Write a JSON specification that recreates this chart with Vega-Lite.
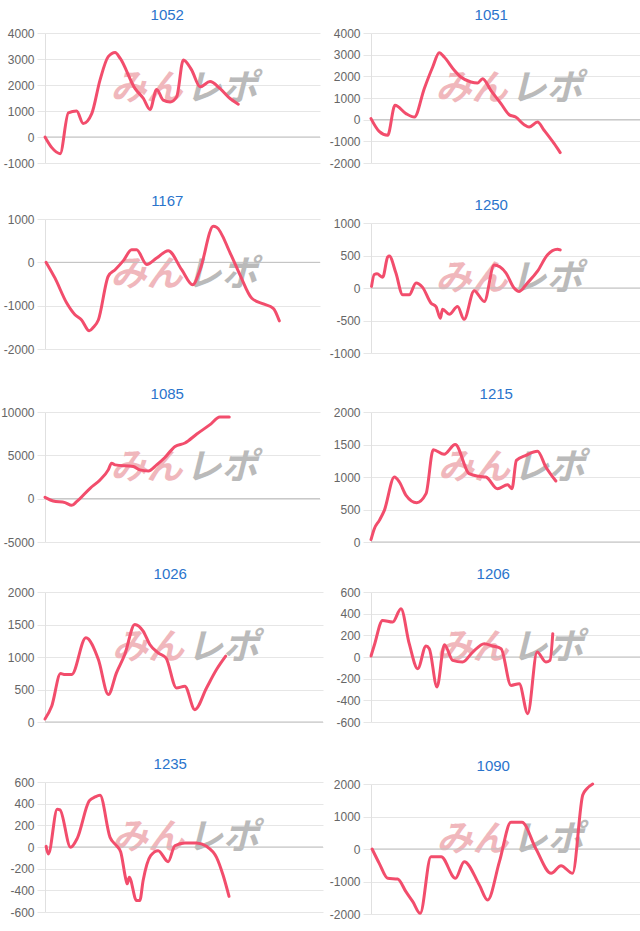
{
  "$schema": "https://vega.github.io/schema/vega-lite/v6.json",
  "padding": {"top": 8, "left": 0, "right": 0, "bottom": 0},
  "background": "white",
  "spacing": 0,
  "datasets": {
    "d1052": [{"x":0,"y":0},{"x":2.4,"y":-400},{"x":5.5,"y":-640},{"x":8.5,"y":930},{"x":11.5,"y":1000},{"x":13.9,"y":520},{"x":17.0,"y":900},{"x":20.0,"y":2190},{"x":23.0,"y":3090},{"x":25.5,"y":3250},{"x":27.3,"y":3030},{"x":32.7,"y":1870},{"x":35.8,"y":1480},{"x":38.2,"y":1060},{"x":40.6,"y":1830},{"x":43.0,"y":1420},{"x":45.5,"y":1350},{"x":47.9,"y":1550},{"x":50.3,"y":2960},{"x":53.3,"y":2580},{"x":56.4,"y":1930},{"x":60.0,"y":2130},{"x":63.6,"y":1870},{"x":67.3,"y":1480},{"x":70.3,"y":1260}],
    "d1051": [{"x":0,"y":50},{"x":3.0,"y":-540},{"x":6.1,"y":-720},{"x":8.8,"y":660},{"x":12.8,"y":280},{"x":15.9,"y":120},{"x":19.5,"y":1430},{"x":22.6,"y":2430},{"x":25.0,"y":3090},{"x":26.8,"y":2890},{"x":30.5,"y":2280},{"x":32.9,"y":1970},{"x":36.6,"y":1740},{"x":39.0,"y":1690},{"x":40.9,"y":1890},{"x":43.9,"y":1350},{"x":47.6,"y":740},{"x":50.6,"y":230},{"x":53.0,"y":120},{"x":56.1,"y":-230},{"x":57.9,"y":-340},{"x":61.0,"y":-110},{"x":63.4,"y":-490},{"x":67.1,"y":-1110},{"x":69.3,"y":-1520}],
    "d1167": [{"x":0.4,"y":0},{"x":3.6,"y":-360},{"x":7.9,"y":-940},{"x":10.9,"y":-1210},{"x":13.3,"y":-1330},{"x":16.1,"y":-1580},{"x":17.6,"y":-1500},{"x":19.4,"y":-1330},{"x":23.0,"y":-320},{"x":25.5,"y":-170},{"x":28.5,"y":40},{"x":31.5,"y":290},{"x":33.3,"y":290},{"x":37.0,"y":-50},{"x":40.6,"y":100},{"x":44.8,"y":270},{"x":49.7,"y":-170},{"x":53.7,"y":-520},{"x":56.4,"y":-170},{"x":61.2,"y":830},{"x":62.4,"y":810},{"x":67.3,"y":220},{"x":70.9,"y":-290},{"x":75.2,"y":-830},{"x":79.4,"y":-960},{"x":83.0,"y":-1060},{"x":85.2,"y":-1350}],
    "d1250": [{"x":0.2,"y":25},{"x":1.2,"y":207},{"x":2.2,"y":218},{"x":4.3,"y":166},{"x":6.1,"y":477},{"x":6.7,"y":492},{"x":9.1,"y":233},{"x":11.6,"y":-104},{"x":14.0,"y":-104},{"x":16.5,"y":78},{"x":18.9,"y":10},{"x":22.0,"y":-233},{"x":23.8,"y":-285},{"x":25.4,"y":-466},{"x":26.2,"y":-326},{"x":28.7,"y":-404},{"x":31.7,"y":-285},{"x":34.1,"y":-482},{"x":37.8,"y":-41},{"x":41.5,"y":-207},{"x":45.1,"y":352},{"x":49.4,"y":233},{"x":52.4,"y":0},{"x":54.3,"y":-52},{"x":57.3,"y":78},{"x":61.0,"y":259},{"x":64.6,"y":508},{"x":68.3,"y":596},{"x":69.3,"y":585}],
    "d1085": [{"x":0,"y":155},{"x":3.0,"y":-270},{"x":7.3,"y":-460},{"x":9.7,"y":-770},{"x":11.5,"y":-350},{"x":16.4,"y":1200},{"x":20.0,"y":2160},{"x":23.0,"y":3320},{"x":24.2,"y":4100},{"x":25.5,"y":3900},{"x":32.1,"y":3710},{"x":34.5,"y":3320},{"x":37.6,"y":3200},{"x":40.6,"y":3900},{"x":43.6,"y":4750},{"x":47.3,"y":6030},{"x":50.9,"y":6420},{"x":55.2,"y":7460},{"x":60.0,"y":8540},{"x":63.6,"y":9430},{"x":67.0,"y":9430}],
    "d1215": [{"x":0,"y":36},{"x":1.2,"y":205},{"x":3.0,"y":333},{"x":4.8,"y":487},{"x":8.4,"y":1000},{"x":10.2,"y":923},{"x":12.6,"y":718},{"x":16.4,"y":605},{"x":19.8,"y":744},{"x":22.4,"y":1420},{"x":26.3,"y":1350},{"x":30.3,"y":1500},{"x":35.3,"y":1051},{"x":38.9,"y":1010},{"x":41.3,"y":1000},{"x":45.5,"y":820},{"x":49.1,"y":882},{"x":50.7,"y":820},{"x":52.3,"y":1256},{"x":55.7,"y":1333},{"x":59.9,"y":1395},{"x":62.9,"y":1154},{"x":66.5,"y":938}],
    "d1026": [{"x":0,"y":46},{"x":2.4,"y":242},{"x":5.6,"y":745},{"x":7.2,"y":730},{"x":9.6,"y":730},{"x":14.7,"y":1296},{"x":19.2,"y":961},{"x":22.8,"y":422},{"x":25.7,"y":756},{"x":28.7,"y":1039},{"x":32.3,"y":1501},{"x":35.3,"y":1398},{"x":37.7,"y":1193},{"x":40.7,"y":1064},{"x":43.5,"y":987},{"x":47.3,"y":524},{"x":50.3,"y":550},{"x":53.9,"y":190},{"x":58.1,"y":524},{"x":61.7,"y":807},{"x":65.0,"y":1013}],
    "d1206": [{"x":0,"y":9},{"x":1.2,"y":108},{"x":4.2,"y":338},{"x":7.9,"y":323},{"x":10.9,"y":446},{"x":13.9,"y":123},{"x":17.0,"y":-108},{"x":20.0,"y":102},{"x":21.2,"y":77},{"x":24.0,"y":-277},{"x":26.7,"y":114},{"x":29.7,"y":-31},{"x":33.3,"y":-46},{"x":37.0,"y":46},{"x":41.2,"y":123},{"x":44.2,"y":102},{"x":47.3,"y":77},{"x":50.9,"y":-262},{"x":53.9,"y":-246},{"x":57.0,"y":-523},{"x":60.4,"y":46},{"x":63.6,"y":-46},{"x":65.1,"y":-31},{"x":66.1,"y":215}],
    "d1235": [{"x":0.4,"y":6},{"x":1.2,"y":-64},{"x":4.4,"y":349},{"x":5.4,"y":343},{"x":9.2,"y":-3},{"x":11.6,"y":80},{"x":15.9,"y":425},{"x":18.0,"y":462},{"x":19.8,"y":478},{"x":23.4,"y":89},{"x":25.7,"y":12},{"x":27.2,"y":-43},{"x":29.1,"y":-300},{"x":29.6,"y":-340},{"x":30.3,"y":-279},{"x":32.9,"y":-493},{"x":34.1,"y":-493},{"x":35.3,"y":-309},{"x":38.0,"y":-80},{"x":40.7,"y":-34},{"x":44.3,"y":-135},{"x":46.7,"y":12},{"x":50.3,"y":37},{"x":54.5,"y":37},{"x":58.1,"y":6},{"x":61.7,"y":-95},{"x":64.1,"y":-263},{"x":66.2,"y":-456}],
    "d1090": [{"x":0.4,"y":0},{"x":3.0,"y":-441},{"x":6.1,"y":-903},{"x":9.7,"y":-923},{"x":12.7,"y":-1313},{"x":15.2,"y":-1620},{"x":17.9,"y":-1980},{"x":21.8,"y":-236},{"x":25.5,"y":-236},{"x":30.7,"y":-903},{"x":33.9,"y":-390},{"x":39.4,"y":-1108},{"x":42.4,"y":-1570},{"x":46.7,"y":-390},{"x":50.9,"y":820},{"x":54.9,"y":820},{"x":60.0,"y":0},{"x":65.5,"y":-749},{"x":69.1,"y":-513},{"x":73.3,"y":-749},{"x":77.0,"y":1662},{"x":78.4,"y":1846},{"x":80.6,"y":2000}]
  },
  "hconcat": [
    {
      "spacing": 16,
      "vconcat": [
        {
          "title": "1052", "width": 275, "height": 130, "data": {"name": "d1052"},
          "encoding": {
            "x": {"field": "x", "type": "quantitative", "scale": {"domain": [0, 100]}, "axis": {"minExtent": 15, "maxExtent": 15}},
            "y": {"field": "y", "type": "quantitative", "scale": {"domain": [-1000, 4000]}, "axis": {"values": [-1000, 0, 1000, 2000, 3000, 4000], "minExtent": 45, "grid": true, "ticks": true}}
          },
          "layer": [
            {"data": {"values": [{"t": "みん", "xm": 50, "ym": 1500}]}, "mark": {"type": "text", "align": "right", "baseline": "middle", "dy": -9, "fontSize": 36, "font": "Noto Sans CJK JP", "fontWeight": "bold", "fontStyle": "italic", "color": "#f0b7bc"}, "encoding": {"x": {"field": "xm", "type": "quantitative"}, "y": {"field": "ym", "type": "quantitative"}, "text": {"field": "t"}}},
            {"data": {"values": [{"t": "レポ", "xm": 50, "ym": 1500}]}, "mark": {"type": "text", "align": "left", "baseline": "middle", "dy": -9, "dx": 3, "fontSize": 36, "font": "Noto Sans CJK JP", "fontWeight": "bold", "fontStyle": "italic", "color": "#bababa"}, "encoding": {"x": {"field": "xm", "type": "quantitative"}, "y": {"field": "ym", "type": "quantitative"}, "text": {"field": "t"}}},
            {"data": {"values": [{"z": 0}]}, "mark": {"type": "rule", "color": "#bfbfbf"}, "encoding": {"x": null, "y": {"field": "z", "type": "quantitative"}}},
            {"mark": {"type": "line", "color": "#f24d6c", "strokeWidth": 3, "interpolate": "monotone", "strokeCap": "round", "strokeJoin": "round"}}
          ]
        },
        {
          "title": "1167", "width": 275, "height": 130, "data": {"name": "d1167"},
          "encoding": {
            "x": {"field": "x", "type": "quantitative", "scale": {"domain": [0, 100]}, "axis": {"minExtent": 22, "maxExtent": 22}},
            "y": {"field": "y", "type": "quantitative", "scale": {"domain": [-2000, 1000]}, "axis": {"values": [-2000, -1000, 0, 1000], "minExtent": 45, "grid": true, "ticks": true}}
          },
          "layer": [
            {"data": {"values": [{"t": "みん", "xm": 50, "ym": -500}]}, "mark": {"type": "text", "align": "right", "baseline": "middle", "dy": -9, "fontSize": 36, "font": "Noto Sans CJK JP", "fontWeight": "bold", "fontStyle": "italic", "color": "#f0b7bc"}, "encoding": {"x": {"field": "xm", "type": "quantitative"}, "y": {"field": "ym", "type": "quantitative"}, "text": {"field": "t"}}},
            {"data": {"values": [{"t": "レポ", "xm": 50, "ym": -500}]}, "mark": {"type": "text", "align": "left", "baseline": "middle", "dy": -9, "dx": 3, "fontSize": 36, "font": "Noto Sans CJK JP", "fontWeight": "bold", "fontStyle": "italic", "color": "#bababa"}, "encoding": {"x": {"field": "xm", "type": "quantitative"}, "y": {"field": "ym", "type": "quantitative"}, "text": {"field": "t"}}},
            {"data": {"values": [{"z": 0}]}, "mark": {"type": "rule", "color": "#bfbfbf"}, "encoding": {"x": null, "y": {"field": "z", "type": "quantitative"}}},
            {"mark": {"type": "line", "color": "#f24d6c", "strokeWidth": 3, "interpolate": "monotone", "strokeCap": "round", "strokeJoin": "round"}}
          ]
        },
        {
          "title": "1085", "width": 275, "height": 130, "data": {"name": "d1085"},
          "encoding": {
            "x": {"field": "x", "type": "quantitative", "scale": {"domain": [0, 100]}, "axis": {"minExtent": 9, "maxExtent": 9}},
            "y": {"field": "y", "type": "quantitative", "scale": {"domain": [-5000, 10000]}, "axis": {"values": [-5000, 0, 5000, 10000], "minExtent": 45, "grid": true, "ticks": true}}
          },
          "layer": [
            {"data": {"values": [{"t": "みん", "xm": 50, "ym": 2500}]}, "mark": {"type": "text", "align": "right", "baseline": "middle", "dy": -9, "fontSize": 36, "font": "Noto Sans CJK JP", "fontWeight": "bold", "fontStyle": "italic", "color": "#f0b7bc"}, "encoding": {"x": {"field": "xm", "type": "quantitative"}, "y": {"field": "ym", "type": "quantitative"}, "text": {"field": "t"}}},
            {"data": {"values": [{"t": "レポ", "xm": 50, "ym": 2500}]}, "mark": {"type": "text", "align": "left", "baseline": "middle", "dy": -9, "dx": 3, "fontSize": 36, "font": "Noto Sans CJK JP", "fontWeight": "bold", "fontStyle": "italic", "color": "#bababa"}, "encoding": {"x": {"field": "xm", "type": "quantitative"}, "y": {"field": "ym", "type": "quantitative"}, "text": {"field": "t"}}},
            {"data": {"values": [{"z": 0}]}, "mark": {"type": "rule", "color": "#bfbfbf"}, "encoding": {"x": null, "y": {"field": "z", "type": "quantitative"}}},
            {"mark": {"type": "line", "color": "#f24d6c", "strokeWidth": 3, "interpolate": "monotone", "strokeCap": "round", "strokeJoin": "round"}}
          ]
        },
        {
          "title": "1026", "width": 278, "height": 130, "data": {"name": "d1026"},
          "encoding": {
            "x": {"field": "x", "type": "quantitative", "scale": {"domain": [0, 100]}, "axis": {"minExtent": 19, "maxExtent": 19}},
            "y": {"field": "y", "type": "quantitative", "scale": {"domain": [0, 2000]}, "axis": {"values": [0, 500, 1000, 1500, 2000], "minExtent": 42, "grid": true, "ticks": true}}
          },
          "layer": [
            {"data": {"values": [{"t": "みん", "xm": 50, "ym": 1000}]}, "mark": {"type": "text", "align": "right", "baseline": "middle", "dy": -9, "fontSize": 36, "font": "Noto Sans CJK JP", "fontWeight": "bold", "fontStyle": "italic", "color": "#f0b7bc"}, "encoding": {"x": {"field": "xm", "type": "quantitative"}, "y": {"field": "ym", "type": "quantitative"}, "text": {"field": "t"}}},
            {"data": {"values": [{"t": "レポ", "xm": 50, "ym": 1000}]}, "mark": {"type": "text", "align": "left", "baseline": "middle", "dy": -9, "dx": 3, "fontSize": 36, "font": "Noto Sans CJK JP", "fontWeight": "bold", "fontStyle": "italic", "color": "#bababa"}, "encoding": {"x": {"field": "xm", "type": "quantitative"}, "y": {"field": "ym", "type": "quantitative"}, "text": {"field": "t"}}},
            {"data": {"values": [{"z": 0}]}, "mark": {"type": "rule", "color": "#bfbfbf"}, "encoding": {"x": null, "y": {"field": "z", "type": "quantitative"}}},
            {"mark": {"type": "line", "color": "#f24d6c", "strokeWidth": 3, "interpolate": "monotone", "strokeCap": "round", "strokeJoin": "round"}}
          ]
        },
        {
          "title": "1235", "width": 278, "height": 130, "data": {"name": "d1235"},
          "encoding": {
            "x": {"field": "x", "type": "quantitative", "scale": {"domain": [0, 100]}, "axis": {"minExtent": 6, "maxExtent": 6}},
            "y": {"field": "y", "type": "quantitative", "scale": {"domain": [-600, 600]}, "axis": {"values": [-600, -400, -200, 0, 200, 400, 600], "minExtent": 42, "grid": true, "ticks": true}}
          },
          "layer": [
            {"data": {"values": [{"t": "みん", "xm": 50, "ym": 0}]}, "mark": {"type": "text", "align": "right", "baseline": "middle", "dy": -9, "fontSize": 36, "font": "Noto Sans CJK JP", "fontWeight": "bold", "fontStyle": "italic", "color": "#f0b7bc"}, "encoding": {"x": {"field": "xm", "type": "quantitative"}, "y": {"field": "ym", "type": "quantitative"}, "text": {"field": "t"}}},
            {"data": {"values": [{"t": "レポ", "xm": 50, "ym": 0}]}, "mark": {"type": "text", "align": "left", "baseline": "middle", "dy": -9, "dx": 3, "fontSize": 36, "font": "Noto Sans CJK JP", "fontWeight": "bold", "fontStyle": "italic", "color": "#bababa"}, "encoding": {"x": {"field": "xm", "type": "quantitative"}, "y": {"field": "ym", "type": "quantitative"}, "text": {"field": "t"}}},
            {"data": {"values": [{"z": 0}]}, "mark": {"type": "rule", "color": "#bfbfbf"}, "encoding": {"x": null, "y": {"field": "z", "type": "quantitative"}}},
            {"mark": {"type": "line", "color": "#f24d6c", "strokeWidth": 3, "interpolate": "monotone", "strokeCap": "round", "strokeJoin": "round"}}
          ]
        }
      ]
    },
    {
      "spacing": 16,
      "vconcat": [
        {
          "title": "1051", "width": 273, "height": 130, "data": {"name": "d1051"},
          "encoding": {
            "x": {"field": "x", "type": "quantitative", "scale": {"domain": [0, 100]}, "axis": {"minExtent": 19, "maxExtent": 19}},
            "y": {"field": "y", "type": "quantitative", "scale": {"domain": [-2000, 4000]}, "axis": {"values": [-2000, -1000, 0, 1000, 2000, 3000, 4000], "minExtent": 47, "grid": true, "ticks": true}}
          },
          "layer": [
            {"data": {"values": [{"t": "みん", "xm": 50, "ym": 1000}]}, "mark": {"type": "text", "align": "right", "baseline": "middle", "dy": -9, "fontSize": 36, "font": "Noto Sans CJK JP", "fontWeight": "bold", "fontStyle": "italic", "color": "#f0b7bc"}, "encoding": {"x": {"field": "xm", "type": "quantitative"}, "y": {"field": "ym", "type": "quantitative"}, "text": {"field": "t"}}},
            {"data": {"values": [{"t": "レポ", "xm": 50, "ym": 1000}]}, "mark": {"type": "text", "align": "left", "baseline": "middle", "dy": -9, "dx": 3, "fontSize": 36, "font": "Noto Sans CJK JP", "fontWeight": "bold", "fontStyle": "italic", "color": "#bababa"}, "encoding": {"x": {"field": "xm", "type": "quantitative"}, "y": {"field": "ym", "type": "quantitative"}, "text": {"field": "t"}}},
            {"data": {"values": [{"z": 0}]}, "mark": {"type": "rule", "color": "#bfbfbf"}, "encoding": {"x": null, "y": {"field": "z", "type": "quantitative"}}},
            {"mark": {"type": "line", "color": "#f24d6c", "strokeWidth": 3, "interpolate": "monotone", "strokeCap": "round", "strokeJoin": "round"}}
          ]
        },
        {
          "title": "1250", "width": 273, "height": 130, "data": {"name": "d1250"},
          "encoding": {
            "x": {"field": "x", "type": "quantitative", "scale": {"domain": [0, 100]}, "axis": {"minExtent": 18, "maxExtent": 18}},
            "y": {"field": "y", "type": "quantitative", "scale": {"domain": [-1000, 1000]}, "axis": {"values": [-1000, -500, 0, 500, 1000], "minExtent": 47, "grid": true, "ticks": true}}
          },
          "layer": [
            {"data": {"values": [{"t": "みん", "xm": 50, "ym": 0}]}, "mark": {"type": "text", "align": "right", "baseline": "middle", "dy": -9, "fontSize": 36, "font": "Noto Sans CJK JP", "fontWeight": "bold", "fontStyle": "italic", "color": "#f0b7bc"}, "encoding": {"x": {"field": "xm", "type": "quantitative"}, "y": {"field": "ym", "type": "quantitative"}, "text": {"field": "t"}}},
            {"data": {"values": [{"t": "レポ", "xm": 50, "ym": 0}]}, "mark": {"type": "text", "align": "left", "baseline": "middle", "dy": -9, "dx": 3, "fontSize": 36, "font": "Noto Sans CJK JP", "fontWeight": "bold", "fontStyle": "italic", "color": "#bababa"}, "encoding": {"x": {"field": "xm", "type": "quantitative"}, "y": {"field": "ym", "type": "quantitative"}, "text": {"field": "t"}}},
            {"data": {"values": [{"z": 0}]}, "mark": {"type": "rule", "color": "#bfbfbf"}, "encoding": {"x": null, "y": {"field": "z", "type": "quantitative"}}},
            {"mark": {"type": "line", "color": "#f24d6c", "strokeWidth": 3, "interpolate": "monotone", "strokeCap": "round", "strokeJoin": "round"}}
          ]
        },
        {
          "title": "1215", "width": 278, "height": 130, "data": {"name": "d1215"},
          "encoding": {
            "x": {"field": "x", "type": "quantitative", "scale": {"domain": [0, 100]}, "axis": {"minExtent": 9, "maxExtent": 9}},
            "y": {"field": "y", "type": "quantitative", "scale": {"domain": [0, 2000]}, "axis": {"values": [0, 500, 1000, 1500, 2000], "minExtent": 42, "grid": true, "ticks": true}}
          },
          "layer": [
            {"data": {"values": [{"t": "みん", "xm": 50, "ym": 1000}]}, "mark": {"type": "text", "align": "right", "baseline": "middle", "dy": -9, "fontSize": 36, "font": "Noto Sans CJK JP", "fontWeight": "bold", "fontStyle": "italic", "color": "#f0b7bc"}, "encoding": {"x": {"field": "xm", "type": "quantitative"}, "y": {"field": "ym", "type": "quantitative"}, "text": {"field": "t"}}},
            {"data": {"values": [{"t": "レポ", "xm": 50, "ym": 1000}]}, "mark": {"type": "text", "align": "left", "baseline": "middle", "dy": -9, "dx": 3, "fontSize": 36, "font": "Noto Sans CJK JP", "fontWeight": "bold", "fontStyle": "italic", "color": "#bababa"}, "encoding": {"x": {"field": "xm", "type": "quantitative"}, "y": {"field": "ym", "type": "quantitative"}, "text": {"field": "t"}}},
            {"data": {"values": [{"z": 0}]}, "mark": {"type": "rule", "color": "#bfbfbf"}, "encoding": {"x": null, "y": {"field": "z", "type": "quantitative"}}},
            {"mark": {"type": "line", "color": "#f24d6c", "strokeWidth": 3, "interpolate": "monotone", "strokeCap": "round", "strokeJoin": "round"}}
          ]
        },
        {
          "title": "1206", "width": 275, "height": 130, "data": {"name": "d1206"},
          "encoding": {
            "x": {"field": "x", "type": "quantitative", "scale": {"domain": [0, 100]}, "axis": {"minExtent": 21, "maxExtent": 21}},
            "y": {"field": "y", "type": "quantitative", "scale": {"domain": [-600, 600]}, "axis": {"values": [-600, -400, -200, 0, 200, 400, 600], "minExtent": 45, "grid": true, "ticks": true}}
          },
          "layer": [
            {"data": {"values": [{"t": "みん", "xm": 50, "ym": 0}]}, "mark": {"type": "text", "align": "right", "baseline": "middle", "dy": -9, "fontSize": 36, "font": "Noto Sans CJK JP", "fontWeight": "bold", "fontStyle": "italic", "color": "#f0b7bc"}, "encoding": {"x": {"field": "xm", "type": "quantitative"}, "y": {"field": "ym", "type": "quantitative"}, "text": {"field": "t"}}},
            {"data": {"values": [{"t": "レポ", "xm": 50, "ym": 0}]}, "mark": {"type": "text", "align": "left", "baseline": "middle", "dy": -9, "dx": 3, "fontSize": 36, "font": "Noto Sans CJK JP", "fontWeight": "bold", "fontStyle": "italic", "color": "#bababa"}, "encoding": {"x": {"field": "xm", "type": "quantitative"}, "y": {"field": "ym", "type": "quantitative"}, "text": {"field": "t"}}},
            {"data": {"values": [{"z": 0}]}, "mark": {"type": "rule", "color": "#bfbfbf"}, "encoding": {"x": null, "y": {"field": "z", "type": "quantitative"}}},
            {"mark": {"type": "line", "color": "#f24d6c", "strokeWidth": 3, "interpolate": "monotone", "strokeCap": "round", "strokeJoin": "round"}}
          ]
        },
        {
          "title": "1090", "width": 275, "height": 130, "data": {"name": "d1090"},
          "encoding": {
            "x": {"field": "x", "type": "quantitative", "scale": {"domain": [0, 100]}, "axis": {"minExtent": 6, "maxExtent": 6}},
            "y": {"field": "y", "type": "quantitative", "scale": {"domain": [-2000, 2000]}, "axis": {"values": [-2000, -1000, 0, 1000, 2000], "minExtent": 45, "grid": true, "ticks": true}}
          },
          "layer": [
            {"data": {"values": [{"t": "みん", "xm": 50, "ym": 0}]}, "mark": {"type": "text", "align": "right", "baseline": "middle", "dy": -9, "fontSize": 36, "font": "Noto Sans CJK JP", "fontWeight": "bold", "fontStyle": "italic", "color": "#f0b7bc"}, "encoding": {"x": {"field": "xm", "type": "quantitative"}, "y": {"field": "ym", "type": "quantitative"}, "text": {"field": "t"}}},
            {"data": {"values": [{"t": "レポ", "xm": 50, "ym": 0}]}, "mark": {"type": "text", "align": "left", "baseline": "middle", "dy": -9, "dx": 3, "fontSize": 36, "font": "Noto Sans CJK JP", "fontWeight": "bold", "fontStyle": "italic", "color": "#bababa"}, "encoding": {"x": {"field": "xm", "type": "quantitative"}, "y": {"field": "ym", "type": "quantitative"}, "text": {"field": "t"}}},
            {"data": {"values": [{"z": 0}]}, "mark": {"type": "rule", "color": "#bfbfbf"}, "encoding": {"x": null, "y": {"field": "z", "type": "quantitative"}}},
            {"mark": {"type": "line", "color": "#f24d6c", "strokeWidth": 3, "interpolate": "monotone", "strokeCap": "round", "strokeJoin": "round"}}
          ]
        }
      ]
    }
  ],
  "config": {
    "view": {"stroke": null},
    "title": {"fontSize": 15, "font": "Liberation Sans", "color": "#2a74cc", "fontWeight": "normal", "anchor": "middle", "frame": "bounds", "dx": 7, "offset": 4},
    "axisY": {"grid": true, "gridColor": "#e6e6e6", "ticks": true, "tickColor": "#e6e6e6", "tickSize": 8, "domainColor": "#e0e0e0", "labelColor": "#666666", "labelFont": "Liberation Sans", "labelFontSize": 12, "labelPadding": 3, "labelOverlap": false, "labelBound": false, "title": null, "labelExpr": "'' + datum.value"},
    "axisX": {"labels": false, "ticks": false, "domain": false, "grid": false, "title": null}
  }
}
